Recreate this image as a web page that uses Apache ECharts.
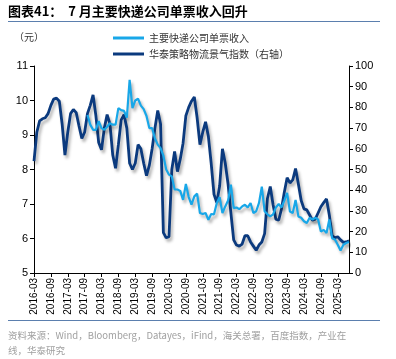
<!DOCTYPE html>
<html><head><meta charset="utf-8">
<script src="https://cdn.jsdelivr.net/npm/echarts@6/dist/echarts.min.js"></script>
<style>html,body{margin:0;padding:0;background:#fff}#c{width:396px;height:359px}</style>
</head><body><div id="c"></div>
<script>
// months 2016-03 .. 2025-07
const categories = [];
for (let y = 2016, m = 3; y < 2025 || (y === 2025 && m <= 7); m++) {
  if (m > 12) { m = 1; y++; }
  if (y === 2025 && m > 7) break;
  categories.push(y + '-' + String(m).padStart(2, '0'));
}
const leftTicks = [5, 11, 1];
const rightTicks = [0, 100, 10];
const seriesNames = ['主要快递公司单票收入', '华泰策略物流景气指数（右轴）'];
// 主要快递公司单票收入 (元), starts 2017-10
const revenueStartIndex = 19;
const revenueValues = [
  9.58, 9.3, 9.15, 9.15, 9.4, 9.2, 9.15, 9.24, 9.34, 9.3,
  9.3, 9.78, 9.72, 9.7, 9.5, 10.6, 9.78, 10.0, 10.05, 9.85,
  9.75, 9.55, 9.2, 9.2, 8.9, 8.72, 8.62, 8.4, 8.0, 7.85,
  7.8, 7.42, 7.42, 7.38, 7.12, 7.58, 7.2, 6.98, 7.22, 7.3,
  6.74, 6.71, 6.74, 6.54, 6.71, 6.7, 7.03, 7.2, 6.74, 6.93,
  7.1, 7.56, 6.88, 6.9, 6.85, 6.93, 6.98, 6.9, 7.03, 6.74,
  6.79, 7.03, 7.5, 6.79, 6.7, 6.64, 6.7, 6.9, 7.0, 6.9,
  7.1, 7.32, 6.78, 6.74, 7.12, 6.64, 6.6, 6.5, 6.45, 6.6,
  6.55, 6.6, 6.55, 6.2, 6.25, 6.16, 6.55, 6.01, 5.97, 5.82,
  5.65, 5.82, 5.87, 5.9
];
// 华泰策略物流景气指数 (右轴)
const indexValues = [
  54, 68, 73.5, 74.5, 75, 77, 81, 84, 84.5, 83,
  72, 57, 68, 77, 79, 77.5, 71, 65, 68, 77,
  81, 86, 76, 63, 59.5, 70, 76.5, 72, 57, 50.6,
  62, 74, 76.5, 70, 53, 50, 53, 62, 60, 53,
  47, 52, 60, 70, 78.5, 72, 19.5, 17, 17.5, 50,
  58.7, 49, 55, 62.7, 76, 80, 83, 85, 75, 62,
  68, 73, 66, 53, 38, 34, 42, 60, 53, 43,
  29, 16, 13.5, 13, 14, 18, 18, 15, 13, 11,
  13.5, 15, 19, 36, 41.8, 33, 26, 25.5, 31, 39,
  46, 43.5, 45, 50.5, 43, 35, 31, 30.5, 28, 25.5,
  26, 29, 32, 34, 35.8, 28, 18, 17, 17.5, 16,
  14.8, 15, 15.5
];
const revenueData = new Array(revenueStartIndex).fill(null).concat(revenueValues);

const cjk = '"Noto Sans CJK SC", "Liberation Sans", sans-serif';
const num = '"Liberation Sans", Arial, sans-serif';
const chart = echarts.init(document.getElementById('c'), null, {renderer: 'canvas'});
const shadow = {shadowColor: 'rgba(0,0,0,0.3)', shadowBlur: 3, shadowOffsetX: 2, shadowOffsetY: 3};
chart.setOption({
  animation: false,
  backgroundColor: '#fff',
  grid: {left: 34, right: 47, top: 66, bottom: 86},
  legend: {
    orient: 'vertical', left: 108, top: 28, itemGap: 6,
    itemWidth: 31, itemHeight: 3, icon: 'rect',
    textStyle: {fontFamily: cjk, fontSize: 10, color: '#333'},
    data: seriesNames
  },
  xAxis: {
    type: 'category', data: categories, boundaryGap: false,
    axisLine: {lineStyle: {color: '#000', width: 1}},
    axisTick: {interval: 5, length: 4, lineStyle: {color: '#000'}},
    axisLabel: {interval: 5, rotate: 90, fontFamily: num, fontSize: 10, color: '#000', margin: 5}
  },
  yAxis: [{
    type: 'value', min: leftTicks[0], max: leftTicks[1], interval: leftTicks[2],
    splitLine: {show: false},
    axisLine: {show: true, lineStyle: {color: '#000'}},
    axisTick: {show: true, length: 4, lineStyle: {color: '#000'}},
    axisLabel: {fontFamily: num, fontSize: 11, color: '#000', margin: 6}
  }, {
    type: 'value', min: rightTicks[0], max: rightTicks[1], interval: rightTicks[2],
    splitLine: {show: false},
    axisLine: {show: true, lineStyle: {color: '#000'}},
    axisTick: {show: true, length: 4, lineStyle: {color: '#000'}},
    axisLabel: {fontFamily: num, fontSize: 11, color: '#000', margin: 6}
  }],
  series: [{
    name: seriesNames[0], type: 'line', yAxisIndex: 0, data: revenueData,
    showSymbol: false, symbol: 'none', connectNulls: false,
    lineStyle: Object.assign({color: '#18a7e8', width: 2.2}, shadow),
    itemStyle: {color: '#18a7e8'}, z: 3
  }, {
    name: seriesNames[1], type: 'line', yAxisIndex: 1, data: indexValues,
    showSymbol: false, symbol: 'none',
    lineStyle: Object.assign({color: '#0b3a7e', width: 2.8}, shadow),
    itemStyle: {color: '#0b3a7e'}, z: 2
  }],
  graphic: [
    {type: 'text', left: 8, top: 5, style: {text: '图表41：  7 月主要快递公司单票收入回升', font: 'bold 13px ' + cjk, fill: '#000'}},
    {type: 'line', shape: {x1: 8, y1: 21.5, x2: 380, y2: 21.5}, style: {stroke: '#5b7fae', lineWidth: 1}},
    {type: 'text', left: 14, top: 32, style: {text: '（元）', font: '10px ' + cjk, fill: '#333'}},
    {type: 'line', shape: {x1: 8, y1: 320.5, x2: 380, y2: 320.5}, style: {stroke: '#5b7fae', lineWidth: 1}},
    {type: 'text', left: 8, top: 328, style: {text: '资料来源：Wind，Bloomberg，Datayes，iFind，海关总署，百度指数，产业在\n线，华泰研究', font: '9.5px ' + cjk, fill: '#a0a0a0', lineHeight: 15}}
  ]
});
</script></body></html>
